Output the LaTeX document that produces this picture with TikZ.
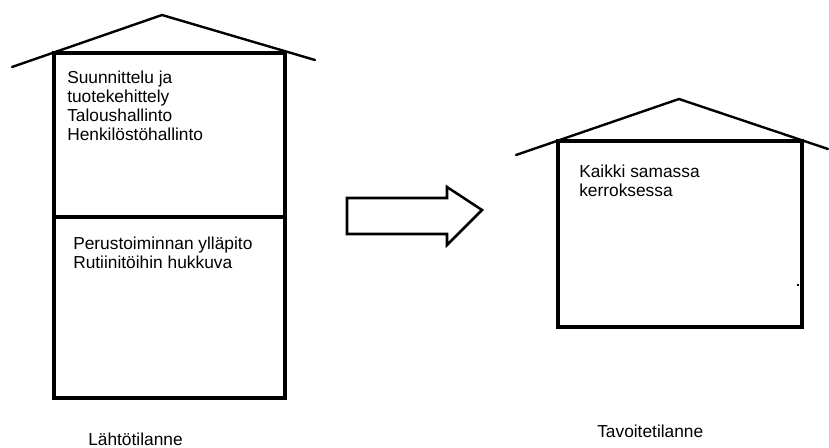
\documentclass[tikz,border=0pt]{standalone}
\usepackage{fontspec}
\setmainfont{Liberation Sans}
\begin{document}
\begin{tikzpicture}[x=0.75pt,y=-0.75pt,
  wall/.style={draw=black,line width=2.5pt,line join=miter},
  roof/.style={draw=black,line width=1.8pt,line join=round,line cap=round},
  blockarrow/.style={draw=black,line width=1.9pt,line join=miter},
  txt/.style={anchor=base west,inner sep=0pt,font=\fontsize{13}{14.3}\selectfont}]
\useasboundingbox (0,0) rectangle (829,447);
% left house
\coordinate (L1) at (12,67);
\coordinate (L2) at (162,15);
\coordinate (L3) at (315,60);
\draw[roof] (L1) -- (L2) -- (L3);
\draw[wall] (54,53) rectangle (285,398);
\draw[wall] (54,217) -- (285,217);
\node[txt] (lt) at (67,83) {\begin{tabular}[t]{@{}l@{}}Suunnittelu ja\\tuotekehittely\\Taloushallinto\\Henkilöstöhallinto\end{tabular}};
\node[txt] (lb) at (73,249) {\begin{tabular}[t]{@{}l@{}}Perustoiminnan ylläpito\\Rutiinitöihin hukkuva\end{tabular}};
\node[txt] (lcap) at (88,445) {Lähtötilanne};
% arrow
\draw[blockarrow] (347,198) -- (447,198) -- (447,187) -- (482,210) -- (447,245) -- (447,234) -- (347,234) -- cycle;
% right house
\coordinate (R1) at (516,155);
\coordinate (R2) at (679,99);
\coordinate (R3) at (828,149);
\draw[roof] (R1) -- (R2) -- (R3);
\draw[wall] (558,141) rectangle (802,327);
\draw[line width=1.6pt] (796.5,285) -- (798.5,285);
\node[txt] (rt) at (579,177) {\begin{tabular}[t]{@{}l@{}}Kaikki samassa\\kerroksessa\end{tabular}};
\node[txt] (rcap) at (597,437) {Tavoitetilanne};
\end{tikzpicture}
\end{document}
